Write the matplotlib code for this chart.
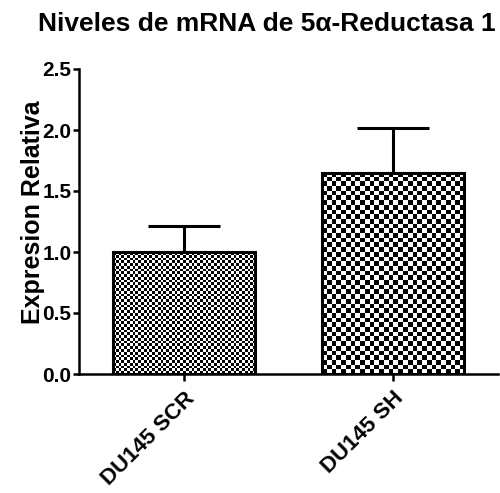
import numpy as np
import matplotlib
matplotlib.use('Agg')
import matplotlib.pyplot as plt

# data
groups = ['DU145 SCR', 'DU145 SH']
means = [1.00, 1.65]
errs = [0.21, 0.37]
yticks = [0.0, 0.5, 1.0, 1.5, 2.0, 2.5]
title = 'Niveles de mRNA de 5\u03b1-Reductasa 1'
ylabel = 'Expresion Relativa'

# style
cell_px = [2.8, 4.7]      # checker square size per bar, in pixels
bar_w = 0.68
lw = 2.2

plt.rcParams['font.family'] = ['Liberation Sans', 'DejaVu Sans']
plt.rcParams['font.weight'] = 'bold'

fig = plt.figure(figsize=(5, 4.93), dpi=100)
ax = fig.add_axes([79 / 500, 1 - 374 / 493, 419 / 500, 305 / 493])

x = np.arange(len(groups))
ax.set_xlim(-0.5, 1.5)
ax.set_ylim(0, 2.5)

bars = ax.bar(x, means, width=bar_w, facecolor='none', edgecolor='black',
              linewidth=lw, zorder=3)

# checkerboard fill, clipped to each bar
for b, c in zip(bars, cell_px):
    x0, y0 = b.get_x(), b.get_y()
    x1, y1 = x0 + b.get_width(), y0 + b.get_height()
    p0 = ax.transData.transform((x0, y0))
    p1 = ax.transData.transform((x1, y1))
    nx = max(1, int(round((p1[0] - p0[0]) / c)))
    ny = max(1, int(round((p1[1] - p0[1]) / c)))
    board = np.add.outer(np.arange(ny), np.arange(nx)) % 2
    im = ax.imshow(board, cmap='gray', extent=(x0, x1, y0, y1),
                   interpolation='nearest', aspect='auto', zorder=2)
    im.set_clip_path(b)

ax.errorbar(x, means, yerr=[np.zeros(len(errs)), errs], fmt='none',
            ecolor='black', elinewidth=lw, capsize=26, capthick=lw, zorder=1)

ax.set_xlim(-0.5, 1.5)
ax.set_ylim(0, 2.5)

for s in ['top', 'right']:
    ax.spines[s].set_visible(False)
for s in ['left', 'bottom']:
    ax.spines[s].set_linewidth(1.8)

ax.set_yticks(yticks)
ax.set_yticklabels([f'{v:.1f}' for v in yticks], fontsize=15, fontweight='bold')
ax.tick_params(axis='y', length=4.5, width=1.8, pad=1)
ax.set_xticks(x)
ax.set_xticklabels(groups, fontsize=16, fontweight='bold', rotation=45,
                   ha='right', rotation_mode='anchor')
ax.tick_params(axis='x', length=5, width=1.8, pad=5)

fig.text(33 / 500, 1 - 212 / 493, ylabel, rotation=90, ha='center',
         va='center', fontsize=18, fontweight='bold')
fig.text(267 / 500, 1 - 24 / 493, title, ha='center', va='center',
         fontsize=19, fontweight='bold')

fig.savefig('out.png', dpi=100)
